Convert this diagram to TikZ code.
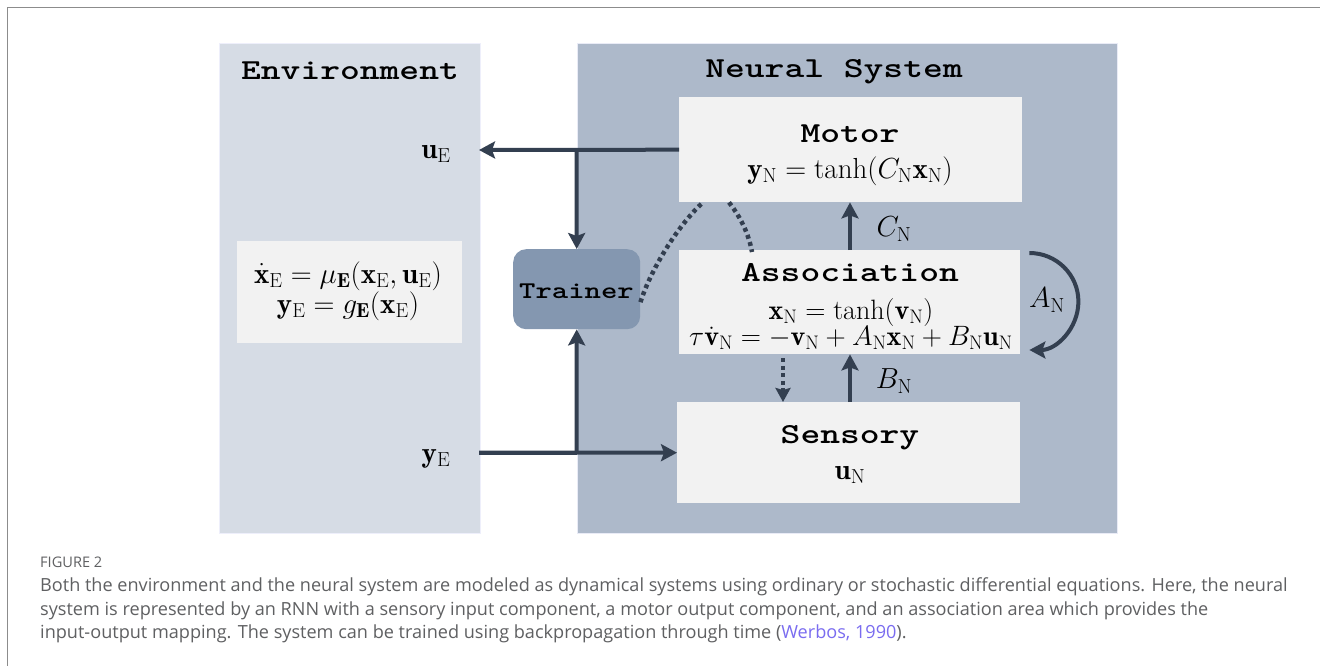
\documentclass[tikz,border=0pt]{standalone}
\usepackage{fix-cm}
\usepackage{amsmath}
\usepackage{graphicx}
\usepackage{fontspec}
\newfontfamily\capfont{Open Sans}
\usetikzlibrary{arrows.meta,calc}
\definecolor{envbg}{HTML}{D6DCE5}
\definecolor{neubg}{HTML}{ADB9CA}
\definecolor{boxbg}{HTML}{F2F2F2}
\definecolor{trbg}{HTML}{8497B0}
\definecolor{arrc}{HTML}{333F50}
\definecolor{capc}{HTML}{5F6062}
\definecolor{linkc}{HTML}{7A6CF0}
\definecolor{framec}{HTML}{8C8C8C}
\newcommand\hdtxt[1]{\scalebox{1.3}[1]{\fontsize{29}{31}\selectfont\ttfamily\bfseries #1}}
\newcommand\trtxt[1]{\scalebox{1.3}[1]{\fontsize{24}{26}\selectfont\ttfamily\bfseries #1}}
\newcommand\eqsz{\fontsize{29}{33}\selectfont}
\newcommand\eqszb{\fontsize{28}{31}\selectfont}
\tikzset{
  panel/.style={inner sep=0pt, anchor=north west},
  wbox/.style={fill=boxbg, inner sep=0pt, anchor=north west},
  lbl/.style={inner sep=0pt, anchor=center},
  arr/.style={draw=arrc, line width=4pt, -{Stealth[length=16pt,width=17pt,inset=3pt]}},
  dotline/.style={draw=arrc, line width=4.5pt, dash pattern=on 4pt off 3.5pt},
  dotarr/.style={draw=arrc, line width=4.5pt, dash pattern=on 4pt off 3.5pt, -{Stealth[length=14pt,width=15pt,inset=2pt]}},
  capline/.style={inner sep=0pt, anchor=base west, text=capc, font=\capfont\fontsize{18.1}{20}\selectfont}
}
\begin{document}
\begin{tikzpicture}[x=1pt,y=-1pt]
\useasboundingbox[fill=white] (0,0) rectangle (1320,666);
% outer frame
\draw[framec, line width=1.5pt] (7.5,666) -- (7.5,7.5) -- (1320,7.5);
% panels
\node[panel, fill=envbg, draw=envbg!80!blue!20, line width=0.8pt, minimum width=261pt, minimum height=490pt] (env) at (219,43) {};
\node[panel, fill=neubg, draw=neubg!85!blue!20, line width=0.8pt, minimum width=540pt, minimum height=490pt] (neu) at (577,43) {};
% boxes
\node[wbox, minimum width=343pt, minimum height=105pt] (motor) at (679,97) {};
\node[wbox, minimum width=341pt, minimum height=104pt] (assoc) at (679,250) {};
\node[wbox, minimum width=343pt, minimum height=101pt] (sensory) at (677,402) {};
\node[wbox, minimum width=225pt, minimum height=102pt] (enveq) at (237,241) {};
\node[fill=trbg, rounded corners=13pt, inner sep=0pt, minimum width=127pt, minimum height=80pt, anchor=north west] (trainer) at (513,249) {};
% titles
\node[lbl] (tenv) at (350,71) {\hdtxt{Environment}};
\node[lbl] (tneu) at (834,72) {\hdtxt{Neural System}};
\node[lbl] (tmot) at (850,134) {\hdtxt{Motor}};
\node[lbl] (tass) at (850,273) {\hdtxt{Association}};
\node[lbl] (tsen) at (850,438) {\hdtxt{Sensory}};
\node[lbl] (ttr) at (576.5,291) {\trtxt{Trainer}};
% equations
\node[lbl] (eqmot) at (850,171) {\eqsz$\mathbf{y}_{\mathrm{N}}=\tanh(C_{\mathrm{N}}\mathbf{x}_{\mathrm{N}})$};
\node[lbl, align=center] (eqass) at (851,324) {\eqszb$\mathbf{x}_{\mathrm{N}}=\tanh(\mathbf{v}_{\mathrm{N}})$\\[-1pt]
  \eqszb$\tau\dot{\mathbf{v}}_{\mathrm{N}}=-\mathbf{v}_{\mathrm{N}}+A_{\mathrm{N}}\mathbf{x}_{\mathrm{N}}+B_{\mathrm{N}}\mathbf{u}_{\mathrm{N}}$};
\node[lbl] (eqsen) at (850,475) {\eqsz$\mathbf{u}_{\mathrm{N}}$};
\node[lbl, align=center] (eqenv) at (348,291) {\eqsz$\dot{\mathbf{x}}_{\mathrm{E}}=\mu_{\mathbf{E}}(\mathbf{x}_{\mathrm{E}},\mathbf{u}_{\mathrm{E}})$\\
  \eqsz$\mathbf{y}_{\mathrm{E}}=g_{\mathbf{E}}(\mathbf{x}_{\mathrm{E}})$};
% side labels
\node[lbl] (uE) at (436,154) {\eqsz$\mathbf{u}_{\mathrm{E}}$};
\node[lbl] (yE) at (436,459) {\eqsz$\mathbf{y}_{\mathrm{E}}$};
\node[lbl] (CN) at (894,229) {\eqsz$C_{\mathrm{N}}$};
\node[lbl] (BN) at (894,381) {\eqsz$B_{\mathrm{N}}$};
\node[lbl] (AN) at (1047,300) {\eqsz$A_{\mathrm{N}}$};
% coordinates
\coordinate (uEtip) at (479,150);
\coordinate (j1) at (576.5,150);
\coordinate (yEstart) at (479,452.5);
\coordinate (j2) at (576.5,452.5);
\coordinate (cx) at (850,0);
\coordinate (dx) at (783,0);
% connectors
\draw[arr] (motor.west) -- (uEtip);
\draw[arr] (j1) -- (trainer.north);
\draw[draw=arrc, line width=4pt] (yEstart) -- (j2);
\draw[arr] (yEstart) -- (sensory.west);
\draw[arr] (j2) -- (trainer.south);
\draw[arr] (assoc.north -| cx) -- (motor.south -| cx);
\draw[arr] (sensory.north -| cx) -- (assoc.south -| cx);
\draw[dotarr, shorten <=4pt] (assoc.south -| dx) -- (sensory.north -| dx);
\draw[arr] ([shift={(9pt,-3pt)}]assoc.north east) arc[start angle=90, end angle=-90, x radius=49pt, y radius=48.5pt];
\draw[dotline] ([yshift=-13pt]trainer.east) .. controls (652,266) and (681,222) .. ([xshift=24pt]motor.south west);
\draw[dotline] ([xshift=50pt]motor.south west) .. controls (738,214) and (748,230) .. ([xshift=73pt,yshift=-2pt]assoc.north west);
% caption
\node[capline, font=\capfont\fontsize{14.6}{16}\selectfont] (fig) at (40,567) {FIGURE 2};
\node[capline] (c1) at (40,591.5) {Both the environment and the neural system are modeled as dynamical systems using ordinary or stochastic differential equations. Here, the neural};
\node[capline] (c2) at (40,615) {system is represented by an RNN with a sensory input component, a motor output component, and an association area which provides the};
\node[capline] (c3) at (40,638.5) {input-output mapping. The system can be trained using backpropagation through time (\textcolor{linkc}{Werbos, 1990}).};
\end{tikzpicture}
\end{document}
